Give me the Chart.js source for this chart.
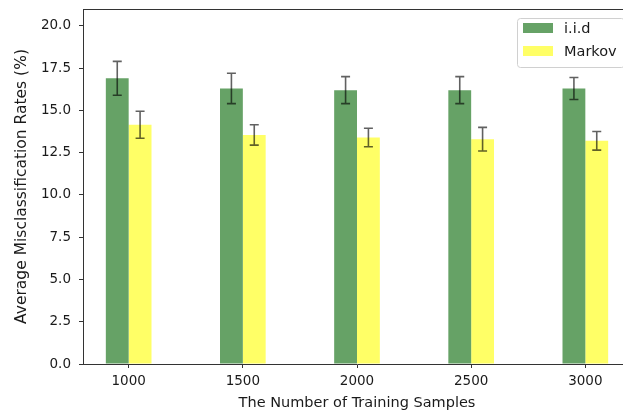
<!DOCTYPE html>
<html>
<head>
<meta charset="utf-8">
<script src="https://cdn.jsdelivr.net/npm/chart.js@4"></script>
<style>
  body { margin: 0; background: #fff; }
  #wrap { width: 623px; height: 415px; overflow: hidden; }
</style>
</head>
<body>
<div id="wrap"><canvas id="chart" width="680" height="415"></canvas></div>
<script>
const samples = [1000, 1500, 2000, 2500, 3000];
const iidRates = [16.9, 16.3, 16.2, 16.2, 16.3];
const iidErr = [1.0, 0.9, 0.8, 0.8, 0.65];
const markovRates = [14.15, 13.55, 13.4, 13.3, 13.2];
const markovErr = [0.8, 0.6, 0.55, 0.7, 0.55];
const yTicks = [0, 2.5, 5, 7.5, 10, 12.5, 15, 17.5, 20];

const tickFont = { family: '"DejaVu Sans", sans-serif', size: 13.5 };
const xTitleFont = { family: '"DejaVu Sans", sans-serif', size: 14.5 };
const yTitleFont = { family: '"DejaVu Sans", sans-serif', size: 15.5 };
const ink = '#1a1a1a';

function points(values) {
  return samples.map((s, i) => ({ x: s, y: values[i] }));
}

// error bars drawn through the chart scales
const errorBars = {
  id: 'errorBars',
  afterDatasetsDraw(chart) {
    const ctx = chart.ctx;
    const y = chart.scales.y;
    ctx.save();
    ctx.strokeStyle = 'rgba(0,0,0,0.62)';
    ctx.lineWidth = 1.6;
    chart.data.datasets.forEach((ds, i) => {
      chart.getDatasetMeta(i).data.forEach((bar, j) => {
        const v = ds.data[j].y, e = ds.errors[j];
        const top = y.getPixelForValue(v + e);
        const bot = y.getPixelForValue(v - e);
        ctx.beginPath();
        ctx.moveTo(bar.x, top); ctx.lineTo(bar.x, bot);
        ctx.moveTo(bar.x - 4.5, top); ctx.lineTo(bar.x + 4.5, top);
        ctx.moveTo(bar.x - 4.5, bot); ctx.lineTo(bar.x + 4.5, bot);
        ctx.stroke();
      });
    });
    ctx.restore();
  }
};

// top spine (right spine falls outside the picture) + legend in the upper right
const frameAndLegend = {
  id: 'frameAndLegend',
  afterDraw(chart) {
    const { ctx, chartArea: a } = chart;
    ctx.save();
    ctx.strokeStyle = '#333';
    ctx.lineWidth = 1;
    ctx.beginPath();
    ctx.moveTo(a.left, a.top + 0.5);
    ctx.lineTo(a.right, a.top + 0.5);
    ctx.stroke();

    const x0 = 517, y0 = 18, w = 107, h = 49;
    ctx.beginPath();
    ctx.roundRect(x0 + 0.5, y0 + 0.5, w, h, 3);
    ctx.fillStyle = 'rgba(255,255,255,0.8)';
    ctx.fill();
    ctx.strokeStyle = '#d0d0d0';
    ctx.stroke();

    ctx.font = '14.5px "DejaVu Sans", sans-serif';
    ctx.textBaseline = 'middle';
    chart.data.datasets.forEach((ds, i) => {
      const cy = 28 + i * 23;
      ctx.fillStyle = ds.backgroundColor;
      ctx.fillRect(523, cy - 5, 30, 10);
      ctx.fillStyle = ink;
      ctx.fillText(ds.label, 564, cy + 1);
    });
    ctx.restore();
  }
};

new Chart(document.getElementById('chart'), {
  type: 'bar',
  data: {
    datasets: [
      { label: 'i.i.d', data: points(iidRates), errors: iidErr, backgroundColor: 'rgb(102,162,102)' },
      { label: 'Markov', data: points(markovRates), errors: markovErr, backgroundColor: 'rgb(255,255,102)' }
    ]
  },
  options: {
    responsive: false,
    animation: false,
    categoryPercentage: 0.4,
    barPercentage: 1.0,
    layout: { padding: { top: 9, right: 49, bottom: 0, left: 0 } },
    plugins: { legend: { display: false }, tooltip: { enabled: false } },
    scales: {
      x: {
        type: 'linear',
        min: 800,
        max: 3200,
        offset: false,
        afterBuildTicks: axis => { axis.ticks = samples.map(v => ({ value: v })); },
        afterFit: axis => { axis.height = 51; axis.paddingLeft = 0; axis.paddingRight = 0; },
        grid: { display: true, drawOnChartArea: false, drawTicks: true, tickLength: 4, color: '#333', offset: false },
        border: { display: true, color: '#333' },
        ticks: { color: ink, font: tickFont, padding: 5, maxRotation: 0, autoSkip: false, callback: v => String(v) },
        title: { display: true, text: 'The Number of Training Samples', color: ink, font: xTitleFont, padding: { top: 0, bottom: 3 } }
      },
      y: {
        min: 0,
        max: 21,
        afterBuildTicks: axis => { axis.ticks = yTicks.map(v => ({ value: v })); },
        afterFit: axis => { axis.width = 83; axis.paddingTop = 0; axis.paddingBottom = 0; },
        grid: { display: true, drawOnChartArea: false, drawTicks: true, tickLength: 4, color: '#333' },
        border: { display: true, color: '#333' },
        ticks: { color: ink, font: tickFont, padding: 8, callback: v => Number(v).toFixed(1) },
        title: { display: true, text: 'Average Misclassification Rates (%)', color: ink, font: yTitleFont, padding: { top: 13, bottom: 0 } }
      }
    }
  },
  plugins: [errorBars, frameAndLegend]
});
</script>
</body>
</html>
